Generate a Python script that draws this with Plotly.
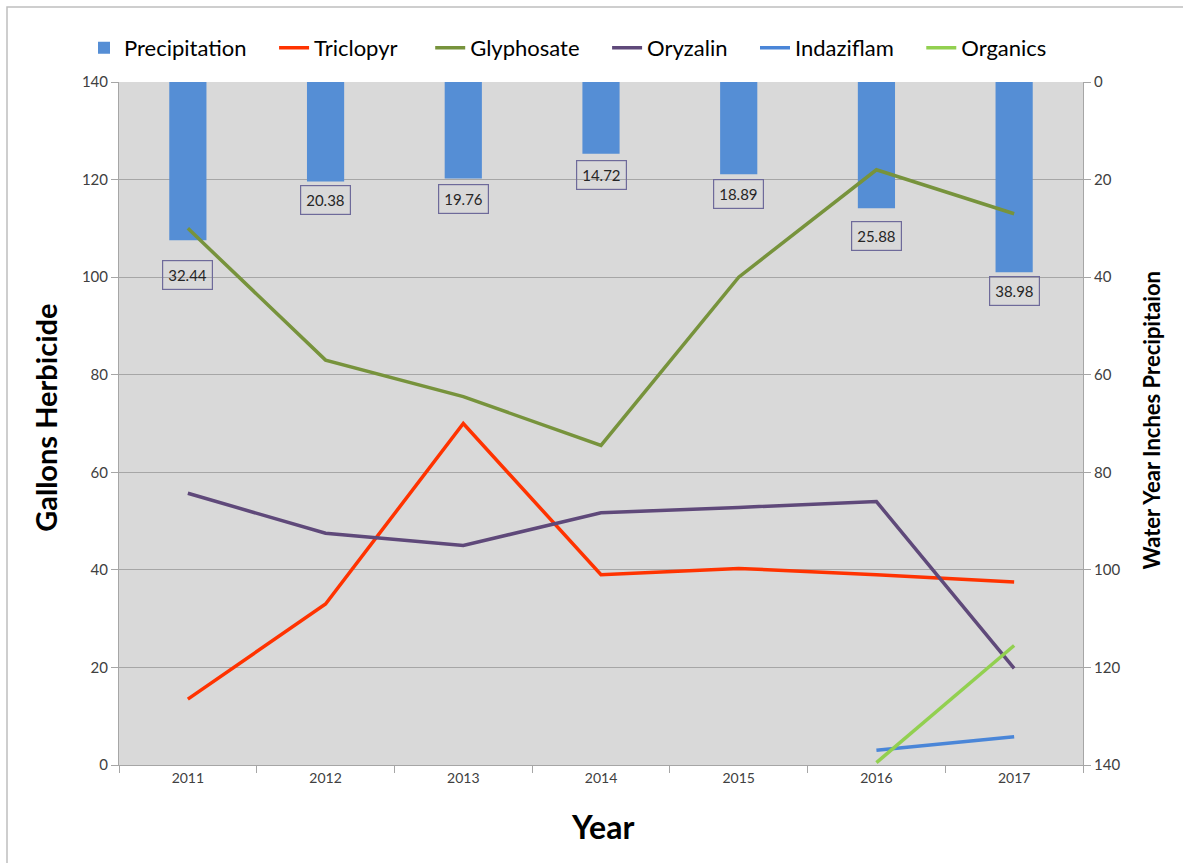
import plotly.graph_objects as go

# Water years and series values
years = ["2011", "2012", "2013", "2014", "2015", "2016", "2017"]
precipitation = [32.44, 20.38, 19.76, 14.72, 18.89, 25.88, 38.98]
triclopyr = [13.5, 33.0, 70.0, 39.0, 40.3, 39.0, 37.5]
glyphosate = [110.0, 83.0, 75.5, 65.5, 100.0, 122.0, 113.0]
oryzalin = [55.7, 47.5, 45.0, 51.7, 52.8, 54.0, 19.8]
indaziflam = [None, None, None, None, None, 3.0, 5.8]
organics = [None, None, None, None, None, 0.5, 24.5]

# Gap (px) between each bar end and its value box
label_gap = [20, 4, 6, 6, 5, 13, 4]

FONT = "Lato, 'Open Sans', sans-serif"
GRID_COLOR = "#A6A6A6"
NBSP = "\u00a0"

# trailing non-breaking spaces widen the gap between legend entries
legend_pad = {"Precipitation": 4, "Triclopyr": 5, "Glyphosate": 4,
              "Oryzalin": 4, "Indaziflam": 4, "Organics": 0}


def legend_name(name):
    return name + NBSP * legend_pad[name]


fig = go.Figure()

fig.add_trace(go.Bar(
    x=years, y=precipitation, name=legend_name("Precipitation"),
    marker=dict(color="#558ED5", line=dict(width=0)),
    width=0.27, yaxis="y",
))

line_series = [
    ("Triclopyr", triclopyr, "#FF3300"),
    ("Glyphosate", glyphosate, "#77933C"),
    ("Oryzalin", oryzalin, "#5F497A"),
    ("Indaziflam", indaziflam, "#4A86D8"),
    ("Organics", organics, "#92D050"),
]
for name, vals, color in line_series:
    fig.add_trace(go.Scatter(
        x=years, y=vals, name=legend_name(name), mode="lines",
        line=dict(color=color, width=3.5),
        connectgaps=False, yaxis="y2",
    ))

annotations = []
# category positions are given by index so the value boxes sit on their bars
for i, (val, gap) in enumerate(zip(precipitation, label_gap)):
    annotations.append(dict(
        x=i, y=val, xref="x", yref="y",
        text=f"{val:.2f}", showarrow=False,
        yanchor="top", yshift=-gap,
        font=dict(family=FONT, size=15, color="#262626"),
        bordercolor="#6E6A9A", borderwidth=1.2, borderpad=5,
    ))

annotations += [
    dict(text="<b>Gallons Herbicide</b>", xref="paper", yref="paper",
         x=-0.077, y=0.508, textangle=-90, showarrow=False,
         xanchor="center", yanchor="middle",
         font=dict(family=FONT, size=29, color="#000000")),
    dict(text="<b>Water Year Inches Precipitaion</b>", xref="paper", yref="paper",
         x=1.071, y=0.505, textangle=-90, showarrow=False,
         xanchor="center", yanchor="middle",
         font=dict(family=FONT, size=22, color="#000000")),
    dict(text="<b>Year</b>", xref="paper", yref="paper",
         x=0.502, y=-0.09, showarrow=False,
         xanchor="center", yanchor="middle",
         font=dict(family=FONT, size=32, color="#000000")),
]

fig.update_layout(
    width=1183, height=863,
    margin=dict(l=119, r=100, t=82, b=98),
    paper_bgcolor="white",
    plot_bgcolor="#D9D9D9",
    font=dict(family=FONT, size=13, color="#404040"),
    showlegend=True,
    legend=dict(
        orientation="h", x=(84 - 119) / 964, y=1.05,
        xanchor="left", yanchor="middle",
        font=dict(family=FONT, size=22, color="#000000"),
        traceorder="normal", itemwidth=30, bgcolor="rgba(0,0,0,0)",
    ),
    xaxis=dict(
        type="category", range=[-0.5, 6.5], autorange=False,
        showgrid=False, showline=True, linecolor=GRID_COLOR,
        ticks="outside", tickson="boundaries", ticklen=7, tickcolor=GRID_COLOR,
        tickfont=dict(family=FONT, size=14, color="#404040"),
        zeroline=False, tickangle=0,
    ),
    yaxis=dict(
        side="right", range=[140, 0], autorange=False, dtick=20, showgrid=True,
        gridcolor=GRID_COLOR, gridwidth=1, showline=True, linecolor=GRID_COLOR,
        ticks="outside", ticklen=7, tickcolor=GRID_COLOR, zeroline=False,
        tickfont=dict(family=FONT, size=15, color="#404040"),
    ),
    yaxis2=dict(
        side="left", overlaying="y", range=[0, 140], autorange=False, dtick=20,
        showgrid=False, showline=True, linecolor=GRID_COLOR, ticks="outside",
        ticklen=7, tickcolor=GRID_COLOR, zeroline=False,
        tickfont=dict(family=FONT, size=15, color="#404040"),
    ),
    annotations=annotations,
    shapes=[dict(
        type="rect", xref="paper", yref="paper",
        x0=(7 - 119) / 964, x1=(1200 - 119) / 964,
        y0=(765 - 880) / 683, y1=(765 - 7) / 683,
        line=dict(color="#BFBFBF", width=1.5), fillcolor="rgba(0,0,0,0)",
        layer="below",
    )],
)

fig.write_html("out.html")
